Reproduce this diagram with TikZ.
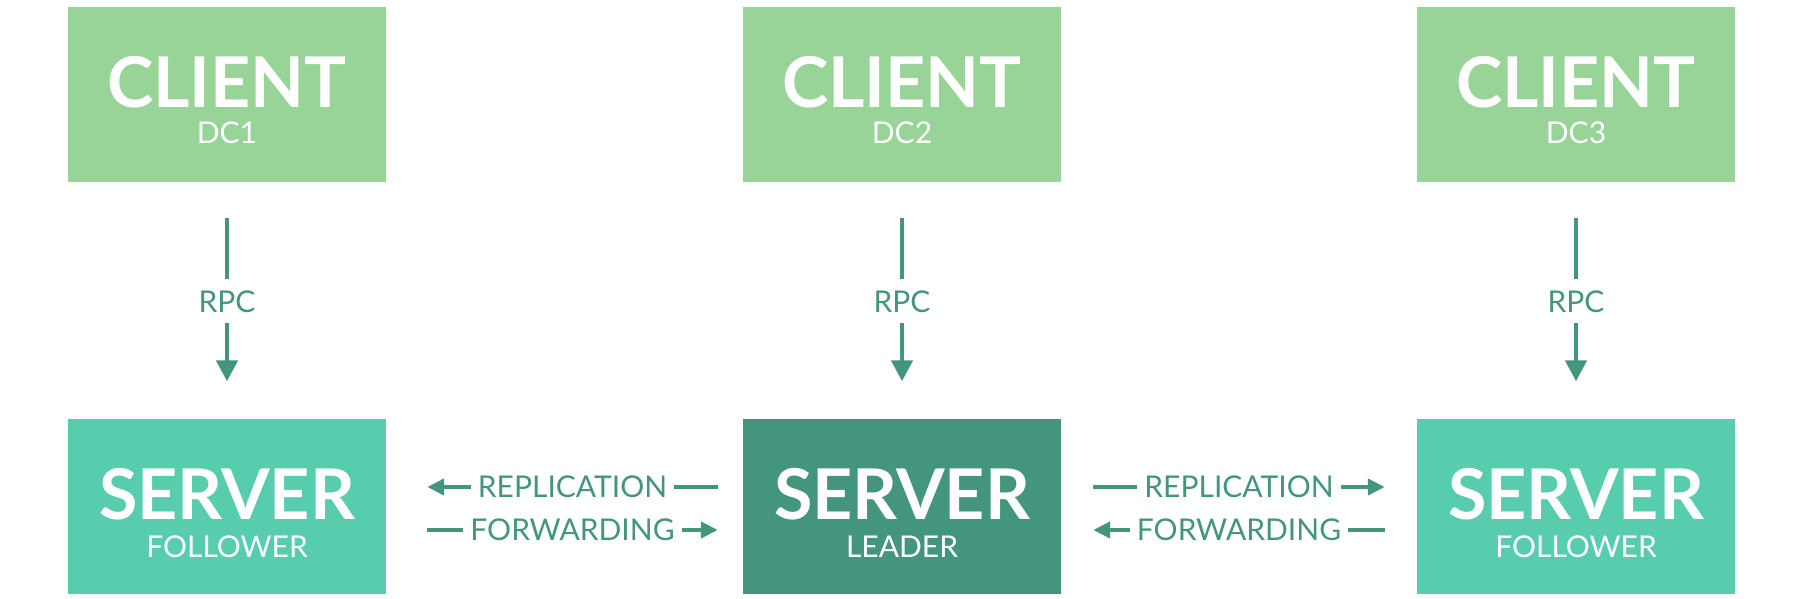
\documentclass[tikz,border=0pt]{standalone}
\usepackage{fontspec}
\setmainfont{Lato}
\usetikzlibrary{arrows.meta}
\definecolor{clientgreen}{HTML}{98D498}
\definecolor{followergreen}{HTML}{57CDAE}
\definecolor{leadergreen}{HTML}{43967D}
\begin{document}
\begin{tikzpicture}[x=1pt, y=-1pt,
		blockbox/.style={minimum width=318pt, minimum height=175pt, inner sep=0pt},
		clientbox/.style={blockbox, fill=clientgreen},
		followerbox/.style={blockbox, fill=followergreen},
		leaderbox/.style={blockbox, fill=leadergreen},
		bigtext/.style={anchor=base, white, inner sep=0pt, font=\fontsize{70}{70}\selectfont\bfseries},
		smalltext/.style={anchor=base, white, inner sep=0pt, font=\fontsize{30}{30}\selectfont},
		tagtext/.style={leadergreen, inner xsep=7pt, inner ysep=11pt, font=\fontsize{30}{30}\selectfont},
		wire/.style={leadergreen, line width=4.5pt},
		vtip/.style={-{Triangle[width=21pt, length=21pt]}},
		htip/.style={-{Triangle[width=16pt, length=17pt]}}]
		\useasboundingbox (0, 0) rectangle (1807, 599);
		% clients
		\node[clientbox] (c1) at (227, 94.5) {};
		\node[clientbox] (c2) at (902, 94.5) {};
		\node[clientbox] (c3) at (1576, 94.5) {};
		\node[bigtext] (c1t) at (227, 108) {CLIENT};
		\node[bigtext] (c2t) at (902, 108) {CLIENT};
		\node[bigtext] (c3t) at (1576, 108) {CLIENT};
		\node[smalltext] (c1s) at (227, 143) {DC1};
		\node[smalltext] (c2s) at (902, 143) {DC2};
		\node[smalltext] (c3s) at (1576, 143) {DC3};
		% servers
		\node[followerbox] (s1) at (227, 506) {};
		\node[leaderbox] (s2) at (902, 506) {};
		\node[followerbox] (s3) at (1576, 506) {};
		\node[bigtext] (s1t) at (227, 519) {SERVER};
		\node[bigtext] (s2t) at (902, 519) {SERVER};
		\node[bigtext] (s3t) at (1576, 519) {SERVER};
		\node[smalltext] (s1s) at (227, 557) {FOLLOWER};
		\node[smalltext] (s2s) at (902, 557) {LEADER};
		\node[smalltext] (s3s) at (1576, 557) {FOLLOWER};
		% rpc
		\node[tagtext, anchor=base] (rpc1) at (227, 312) {RPC};
		\node[tagtext, anchor=base] (rpc2) at (902, 312) {RPC};
		\node[tagtext, anchor=base] (rpc3) at (1576, 312) {RPC};
		\draw[wire, shorten <=36pt] (c1) -- (rpc1);
		\draw[wire, shorten <=36pt] (c2) -- (rpc2);
		\draw[wire, shorten <=36pt] (c3) -- (rpc3);
		\draw[wire, vtip, shorten >=37pt] (rpc1) -- (s1);
		\draw[wire, vtip, shorten >=37pt] (rpc2) -- (s2);
		\draw[wire, vtip, shorten >=37pt] (rpc3) -- (s3);
		% replication and forwarding
		\node[tagtext] (rep1) at (572.5, 487) {REPLICATION};
		\node[tagtext] (fwd1) at (572.5, 530) {FORWARDING};
		\node[tagtext] (rep2) at (1239, 487) {REPLICATION};
		\node[tagtext] (fwd2) at (1239, 530) {FORWARDING};
		\draw[wire, htip, shorten >=41pt] (rep1.west) -- (s1.east |- rep1.west);
		\draw[wire, shorten >=25pt] (rep1.east) -- (s2.west |- rep1.east);
		\draw[wire, shorten <=41pt] (s1.east |- fwd1.west) -- (fwd1.west);
		\draw[wire, htip, shorten >=25pt] (fwd1.east) -- (s2.west |- fwd1.east);
		\draw[wire, shorten <=32pt] (s2.east |- rep2.west) -- (rep2.west);
		\draw[wire, htip, shorten >=32pt] (rep2.east) -- (s3.west |- rep2.east);
		\draw[wire, htip, shorten >=32pt] (fwd2.west) -- (s2.east |- fwd2.west);
		\draw[wire, shorten >=32pt] (fwd2.east) -- (s3.west |- fwd2.east);
	\end{tikzpicture}
\end{document}
